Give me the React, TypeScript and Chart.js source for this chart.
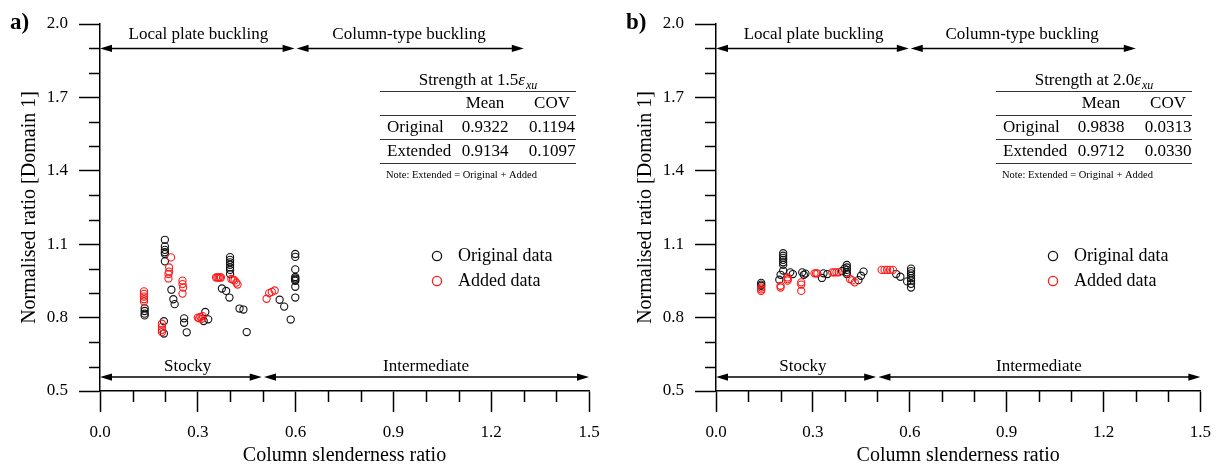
import React, { useEffect, useRef } from 'react';
import { Chart, registerables } from 'chart.js';
Chart.register(...registerables);

const FONT = "'Liberation Serif', 'Times New Roman', serif";

// ---------- data ----------
const panelAOriginal: [number, number][] = [
  [0.137, 0.838], [0.137, 0.827], [0.137, 0.816], [0.137, 0.809],
  [0.199, 1.118], [0.199, 1.091], [0.199, 1.077], [0.199, 1.067], [0.199, 1.06], [0.199, 1.03],
  [0.196, 0.785], [0.196, 0.735],
  [0.219, 0.914], [0.225, 0.875], [0.229, 0.855],
  [0.258, 0.797], [0.258, 0.779], [0.266, 0.74],
  [0.318, 0.786], [0.323, 0.823], [0.332, 0.793],
  [0.374, 0.919], [0.387, 0.909], [0.397, 0.882],
  [0.399, 1.047], [0.399, 1.036], [0.399, 1.026], [0.399, 1.016], [0.399, 1.005], [0.399, 0.995], [0.399, 0.978],
  [0.428, 0.837], [0.44, 0.833], [0.45, 0.741],
  [0.551, 0.873], [0.565, 0.845], [0.585, 0.792],
  [0.599, 1.06], [0.599, 1.048], [0.599, 0.997], [0.599, 0.966], [0.599, 0.96], [0.599, 0.955], [0.599, 0.95], [0.599, 0.926], [0.599, 0.882],
];
const panelAAdded: [number, number][] = [
  [0.135, 0.907], [0.135, 0.897], [0.135, 0.886], [0.135, 0.875], [0.135, 0.866],
  [0.19, 0.775], [0.19, 0.762], [0.19, 0.75], [0.19, 0.741],
  [0.218, 1.046], [0.212, 1.005], [0.212, 0.988], [0.21, 0.978], [0.21, 0.96],
  [0.253, 0.951], [0.253, 0.937], [0.255, 0.923], [0.253, 0.898],
  [0.3, 0.8], [0.304, 0.797], [0.308, 0.803], [0.312, 0.795], [0.315, 0.806],
  [0.356, 0.964], [0.36, 0.964], [0.364, 0.964], [0.368, 0.964], [0.371, 0.964],
  [0.403, 0.958], [0.408, 0.955], [0.413, 0.952], [0.418, 0.943], [0.422, 0.935],
  [0.511, 0.877], [0.519, 0.9], [0.527, 0.905], [0.536, 0.911],
];
const panelBOriginal: [number, number][] = [
  [0.14, 0.942], [0.14, 0.935], [0.14, 0.93],
  [0.208, 1.063], [0.208, 1.053], [0.208, 1.044], [0.208, 1.036], [0.208, 1.026], [0.208, 1.016], [0.208, 0.992],
  [0.2, 0.975], [0.196, 0.955],
  [0.23, 0.985], [0.238, 0.978],
  [0.267, 0.985], [0.272, 0.975], [0.277, 0.98],
  [0.328, 0.962], [0.333, 0.981], [0.345, 0.978],
  [0.39, 0.99], [0.398, 1.0],
  [0.405, 1.015], [0.405, 1.005], [0.405, 0.995], [0.405, 0.985], [0.405, 0.978],
  [0.441, 0.953], [0.449, 0.971], [0.457, 0.988],
  [0.558, 0.978], [0.571, 0.967], [0.592, 0.948],
  [0.604, 1.0], [0.604, 0.99], [0.604, 0.981], [0.604, 0.971], [0.604, 0.961], [0.604, 0.951], [0.604, 0.938], [0.604, 0.923],
];
const panelBAdded: [number, number][] = [
  [0.14, 0.923], [0.14, 0.915], [0.14, 0.909],
  [0.2, 0.93], [0.2, 0.923],
  [0.222, 0.964], [0.222, 0.957], [0.222, 0.951],
  [0.264, 0.944], [0.264, 0.935], [0.264, 0.909],
  [0.305, 0.981], [0.31, 0.981], [0.314, 0.981],
  [0.36, 0.985], [0.366, 0.985], [0.373, 0.985], [0.38, 0.985],
  [0.415, 0.958], [0.422, 0.952], [0.43, 0.944],
  [0.513, 0.995], [0.522, 0.995], [0.53, 0.995], [0.539, 0.995], [0.548, 0.995],
];

const legendLabels = ['Original data', 'Added data'];
const tableHeaders = ['Mean', 'COV'];
const tableRowNames = ['Original', 'Extended'];
const panelATable = [['0.9322', '0.1194'], ['0.9134', '0.1097']];
const panelBTable = [['0.9838', '0.0313'], ['0.9712', '0.0330']];
const tableNote = 'Note: Extended = Original + Added';
const topRegions = ['Local plate buckling', 'Column-type buckling'];
const bottomRegions = ['Stocky', 'Intermediate'];

const isMajorX = (v: number) => Math.abs(v / 0.3 - Math.round(v / 0.3)) < 1e-6;
const isMajorY = (v: number) => Math.abs((v - 0.5) / 0.3 - Math.round((v - 0.5) / 0.3)) < 1e-6;

type PanelProps = {
  letter: string;
  strain: string;
  table: string[][];
  original: [number, number][];
  added: [number, number][];
  left: number;
  width: number;
  rightPad: number;
};

function drawArrow(ctx: CanvasRenderingContext2D, x1: number, x2: number, y: number) {
  const hl = 12, hw = 3.6;
  ctx.beginPath();
  ctx.moveTo(x1 + hl - 1, y);
  ctx.lineTo(x2 - hl + 1, y);
  ctx.stroke();
  ctx.beginPath();
  ctx.moveTo(x1, y);
  ctx.lineTo(x1 + hl, y - hw);
  ctx.lineTo(x1 + hl, y + hw);
  ctx.closePath();
  ctx.fill();
  ctx.beginPath();
  ctx.moveTo(x2, y);
  ctx.lineTo(x2 - hl, y - hw);
  ctx.lineTo(x2 - hl, y + hw);
  ctx.closePath();
  ctx.fill();
}

function Panel(p: PanelProps) {
  const ref = useRef<HTMLCanvasElement | null>(null);
  useEffect(() => {
    if (!ref.current) return;
    const plugin = {
      id: 'annot' + p.letter,
      afterDraw(chart: any) {
        const { ctx, chartArea } = chart;
        const xs = chart.scales.x;
        const ys = chart.scales.y;
        const L = chartArea.left;
        ctx.save();
        ctx.strokeStyle = '#000';
        ctx.fillStyle = '#000';
        ctx.lineWidth = 1.5;
        // minor ticks
        xs.ticks.forEach((t: any) => {
          if (isMajorX(t.value)) return;
          const px = Math.round(xs.getPixelForValue(t.value)) + 0.5;
          ctx.beginPath();
          ctx.moveTo(px, chartArea.bottom);
          ctx.lineTo(px, chartArea.bottom + 11);
          ctx.stroke();
        });
        ys.ticks.forEach((t: any) => {
          if (isMajorY(t.value)) return;
          const py = Math.round(ys.getPixelForValue(t.value)) + 0.5;
          ctx.beginPath();
          ctx.moveTo(chartArea.left - 11, py);
          ctx.lineTo(chartArea.left, py);
          ctx.stroke();
        });
        // arrows
        ctx.lineWidth = 1.5;
        const yTop = ys.getPixelForValue(1.9);
        const yBot = ys.getPixelForValue(0.557);
        drawArrow(ctx, xs.getPixelForValue(0), xs.getPixelForValue(0.597), yTop);
        drawArrow(ctx, xs.getPixelForValue(0.603), xs.getPixelForValue(1.3), yTop);
        drawArrow(ctx, xs.getPixelForValue(0), xs.getPixelForValue(0.496), yBot);
        drawArrow(ctx, xs.getPixelForValue(0.503), xs.getPixelForValue(1.5), yBot);
        ctx.font = `17px ${FONT}`;
        ctx.textAlign = 'center';
        ctx.textBaseline = 'middle';
        ctx.fillText(topRegions[0], xs.getPixelForValue(0.302), yTop - 14);
        ctx.fillText(topRegions[1], xs.getPixelForValue(0.948), yTop - 14);
        ctx.fillText(bottomRegions[0], xs.getPixelForValue(0.269), yBot - 11);
        ctx.fillText(bottomRegions[1], xs.getPixelForValue(1.0), yBot - 11);
        // table
        const T = L + 280;
        const TW = 196;
        ctx.lineWidth = 1;
        ctx.strokeStyle = '#333';
        [91.5, 115.5, 139.5, 163.5].forEach((ly) => {
          ctx.beginPath();
          ctx.moveTo(T, ly);
          ctx.lineTo(T + TW, ly);
          ctx.stroke();
        });
        // title with epsilon
        const part1 = `Strength at ${p.strain}`;
        ctx.font = `17px ${FONT}`;
        const w1 = ctx.measureText(part1).width;
        ctx.font = `italic 17px ${FONT}`;
        const w2 = ctx.measureText('ε').width;
        ctx.font = `italic 12px ${FONT}`;
        const w3 = ctx.measureText('xu').width;
        const total = w1 + w2 + w3 + 1;
        let sx = T + 98 - total / 2;
        ctx.textAlign = 'left';
        ctx.textBaseline = 'alphabetic';
        ctx.font = `17px ${FONT}`;
        ctx.fillText(part1, sx, 85);
        sx += w1;
        ctx.font = `italic 17px ${FONT}`;
        ctx.fillText('ε', sx, 85);
        sx += w2 + 1;
        ctx.font = `italic 12px ${FONT}`;
        ctx.fillText('xu', sx, 89);
        // header and rows
        ctx.font = `17px ${FONT}`;
        ctx.textBaseline = 'middle';
        ctx.textAlign = 'center';
        ctx.fillText(tableHeaders[0], T + 105, 104);
        ctx.fillText(tableHeaders[1], T + 172, 104);
        tableRowNames.forEach((name, i) => {
          const ry = 128 + i * 24;
          ctx.textAlign = 'left';
          ctx.fillText(name, T + 7, ry);
          ctx.textAlign = 'center';
          ctx.fillText(p.table[i][0], T + 105, ry);
          ctx.fillText(p.table[i][1], T + 172, ry);
        });
        ctx.font = `10.5px ${FONT}`;
        ctx.textAlign = 'left';
        ctx.fillText(tableNote, T + 6, 175);
        // legend
        const colors = ['#111', '#ff1a1a'];
        legendLabels.forEach((lab, i) => {
          const ly = 256 + i * 25;
          ctx.beginPath();
          ctx.strokeStyle = colors[i];
          ctx.lineWidth = 1.3;
          ctx.arc(L + 337, ly, 4.6, 0, Math.PI * 2);
          ctx.stroke();
          ctx.font = `18px ${FONT}`;
          ctx.textAlign = 'left';
          ctx.textBaseline = 'middle';
          ctx.fillStyle = '#000';
          ctx.fillText(lab, L + 358, ly);
        });
        // panel letter
        ctx.font = `bold 23px ${FONT}`;
        ctx.textAlign = 'left';
        ctx.textBaseline = 'alphabetic';
        ctx.fillText(p.letter, 10, 29);
        ctx.restore();
      },
    };
    const tickFont = { family: FONT, size: 17 };
    const chart = new Chart(ref.current, {
      type: 'scatter',
      data: {
        datasets: [
          {
            label: legendLabels[0],
            data: p.original.map(([x, y]) => ({ x, y })),
            borderColor: '#111',
            backgroundColor: 'rgba(0,0,0,0)',
            pointRadius: 3.6,
            pointBorderWidth: 1.1,
            order: 1,
          },
          {
            label: legendLabels[1],
            data: p.added.map(([x, y]) => ({ x, y })),
            borderColor: '#ff1a1a',
            backgroundColor: 'rgba(0,0,0,0)',
            pointRadius: 3.6,
            pointBorderWidth: 1.1,
            order: 0,
          },
        ],
      },
      options: {
        animation: false,
        responsive: false,
        maintainAspectRatio: false,
        layout: { padding: { left: 0, right: p.rightPad, top: 24, bottom: 0 } },
        plugins: { legend: { display: false }, tooltip: { enabled: false } },
        scales: {
          x: {
            type: 'linear',
            min: 0,
            max: 1.5,
            afterFit: (s: any) => { s.height = 77; },
            ticks: {
              stepSize: 0.1,
              autoSkip: false,
              maxRotation: 0,
              padding: 10,
              color: '#000',
              font: tickFont,
              callback: (v: any) => (isMajorX(Number(v)) ? Number(v).toFixed(1) : ''),
            },
            grid: {
              display: true,
              drawOnChartArea: false,
              drawTicks: true,
              tickLength: 21,
              tickWidth: 1.5,
              tickColor: (c: any) => (c.tick && isMajorX(c.tick.value) ? '#000' : 'rgba(0,0,0,0)'),
            },
            border: { display: true, color: '#000', width: 1.5 },
            title: { display: true, text: 'Column slenderness ratio', color: '#000', font: { family: FONT, size: 20 }, padding: 0 },
          },
          y: {
            type: 'linear',
            min: 0.5,
            max: 2.0,
            afterFit: (s: any) => { s.width = 100; },
            ticks: {
              stepSize: 0.1,
              autoSkip: false,
              padding: 11,
              color: '#000',
              font: tickFont,
              callback: (v: any) => (isMajorY(Number(v)) ? Number(v).toFixed(1) : ''),
            },
            grid: {
              display: true,
              drawOnChartArea: false,
              drawTicks: true,
              tickLength: 21,
              tickWidth: 1.5,
              tickColor: (c: any) => (c.tick && isMajorY(c.tick.value) ? '#000' : 'rgba(0,0,0,0)'),
            },
            border: { display: true, color: '#000', width: 1.5 },
            title: { display: true, text: 'Normalised ratio [Domain 1]', color: '#000', font: { family: FONT, size: 20 }, padding: { top: 18, bottom: 0 } },
          },
        },
      },
      plugins: [plugin],
    } as any);
    return () => chart.destroy();
  }, []);
  return (
    <canvas
      ref={ref}
      width={p.width}
      height={468}
      style={{ position: 'absolute', left: p.left, top: 0, width: p.width, height: 468, display: 'block' }}
    />
  );
}

export default function App() {
  return (
    <div style={{ position: 'absolute', left: 0, top: 0, width: 1221, height: 468, background: '#fff', overflow: 'hidden' }}>
      <Panel letter="a)" strain="1.5" table={panelATable} original={panelAOriginal} added={panelAAdded} left={0} width={610} rightPad={21} />
      <Panel letter="b)" strain="2.0" table={panelBTable} original={panelBOriginal} added={panelBAdded} left={616} width={605} rightPad={18} />
    </div>
  );
}
